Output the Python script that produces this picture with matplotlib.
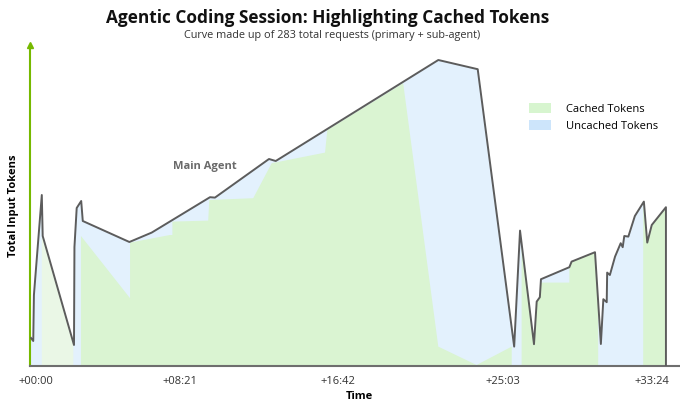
import numpy as np
import matplotlib
matplotlib.use("Agg")
import matplotlib.pyplot as plt
from matplotlib.patches import Polygon, Patch

plt.rcParams['font.family'] = ['Open Sans', 'DejaVu Sans']

# request index (0..282) vs total input tokens (thousands, no scale shown)
total_x = [0.0, 1.0, 1.3, 4.8, 5.2, 19.1, 19.3, 20.3, 22.3, 23.0,
           43.7, 53.6, 79.5, 81.7, 105.7, 108.7, 180.9, 198.4, 214.6, 217.2,
           223.4, 224.6, 226.0, 226.5, 239.1, 240.1, 250.5, 253.1, 254.2, 255.7,
           255.9, 257.1, 259.4, 261.9, 262.8, 263.5, 265.3, 268.2, 272.2, 273.7,
           275.7, 282.0, 282.0]
total_y = [14.0, 12.5, 35.5, 85.5, 65.0, 10.5, 59.5, 79.0, 82.5, 72.5,
           62.0, 66.7, 84.4, 84.2, 103.5, 102.5, 153.0, 148.4, 9.7, 67.7,
           10.9, 32.2, 34.4, 43.4, 49.4, 52.2, 56.9, 11.0, 33.4, 31.9,
           46.7, 45.5, 54.7, 61.4, 59.4, 65.0, 64.7, 75.0, 82.2, 61.7,
           70.5, 79.4, 0.0]

# cached part of each request (top edge of the green area)
cached_x = [22.2, 22.2, 44.0, 44.0, 61.7, 62.8, 62.8, 78.7, 79.2, 98.7,
            106.9, 130.6, 131.6, 165.3, 180.9, 197.9, 213.5, 213.5, 217.9, 217.9,
            223.4, 224.6, 226.0, 226.5, 239.1, 239.1, 240.1, 250.5, 251.9, 251.9,
            271.9, 271.9, 273.7, 275.7, 282.0, 282.0]
cached_y = [0.0, 65.0, 33.9, 61.7, 65.5, 65.5, 72.2, 72.7, 83.0, 83.9,
            101.4, 106.7, 118.0, 141.4, 9.7, 0.5, 9.7, 0.0, 0.0, 61.3,
            10.9, 32.2, 34.4, 41.7, 41.7, 49.4, 52.2, 56.9, 32.2, 0.0,
            0.0, 82.2, 61.7, 70.5, 79.4, 0.0]

# early sub-agent burst, cached (drawn paler)
sub_x = [4.8, 4.8, 5.2, 18.8, 18.8]
sub_y = [0.0, 85.5, 65.0, 11.7, 0.0]

tick_pos = [2.2, 66.2, 136.3, 209.6, 275.8]
tick_labels = ['+00:00', '+08:21', '+16:42', '+25:03', '+33:24']

GREEN = '#daf4d2'
PALE = '#eaf7e6'
BLUE = '#e3f1fd'
LINE = '#5c5c5c'
NV = '#76b900'

fig = plt.figure(figsize=(6.8, 4.08), dpi=100)
ax = fig.add_axes([30 / 680, 42 / 408, 658 / 680, 321 / 408])
ax.set_xlim(-0.44, 291.8)
ax.set_ylim(0, 160.5)

outline = np.column_stack([[0.0] + total_x, [0.0] + total_y])
blue = Polygon(outline, closed=True, facecolor=BLUE, edgecolor='none', zorder=1)
ax.add_patch(blue)

green = Polygon(np.column_stack([cached_x, cached_y]), closed=True,
                facecolor=GREEN, edgecolor='none', zorder=2)
ax.add_patch(green)
green.set_clip_path(blue)

pale = Polygon(np.column_stack([sub_x, sub_y]), closed=True,
               facecolor=PALE, edgecolor='none', zorder=2)
ax.add_patch(pale)
pale.set_clip_path(blue)

ax.plot(total_x, total_y, color=LINE, lw=1.4, zorder=3)

for s in ['top', 'right']:
    ax.spines[s].set_visible(False)
ax.spines['left'].set_color(NV)
ax.spines['left'].set_linewidth(1.5)
ax.spines['bottom'].set_color('#6e6e6e')
ax.spines['bottom'].set_linewidth(1.5)
ax.plot(1, 0, '>', color=NV, ms=4, transform=ax.transAxes, clip_on=False)
ax.plot(0, 1, '^', color=NV, ms=4, transform=ax.transAxes, clip_on=False)

ax.set_yticks([])
ax.set_xticks(tick_pos)
ax.set_xticklabels(tick_labels, fontsize=8, color='#333333')
ax.tick_params(axis='x', length=0, pad=7)

ax.set_xlabel('Time', fontsize=8, fontweight='bold', labelpad=3)
ax.set_ylabel('Total Input Tokens', fontsize=8, fontweight='bold', labelpad=8)

ax.text(77, 100, 'Main Agent', fontsize=8, fontweight='bold', color='#6a6a6a',
        ha='center', va='center')

handles = [Patch(facecolor='#d7f5cf', edgecolor='none', label='Cached Tokens'),
           Patch(facecolor='#cde5fb', edgecolor='none', label='Uncached Tokens')]
ax.legend(handles=handles, loc='upper left', bbox_to_anchor=(0.743, 0.85),
          frameon=False, fontsize=8, handlelength=2.0, handleheight=1.0,
          handletextpad=1.3, labelspacing=0.45)

fig.text(0.482, 0.955, 'Agentic Coding Session: Highlighting Cached Tokens',
         ha='center', va='center', fontsize=12.4, fontweight='bold', color='#111111')
fig.text(0.488, 0.912, 'Curve made up of 283 total requests (primary + sub-agent)',
         ha='center', va='center', fontsize=7.8, color='#333333')

fig.savefig('out.png', dpi=100)
